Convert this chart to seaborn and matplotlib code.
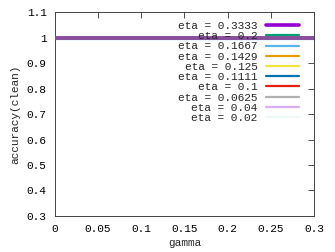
import numpy as np
import pandas as pd
from matplotlib import pyplot as plt
import seaborn as sns

gamma = [0.0, 0.05, 0.1, 0.15, 0.2, 0.25, 0.3]
etas = ["0.3333", "0.2", "0.1667", "0.1429", "0.125", "0.1111", "0.1", "0.0625", "0.04", "0.02"]
acc = {
    "0.3333": [1.0, 1.0, 1.0, 1.0, 1.0, 1.0, 1.0],
    "0.2": [1.0, 1.0, 1.0, 1.0, 1.0, 1.0, 1.0],
    "0.1667": [1.0, 1.0, 1.0, 1.0, 1.0, 1.0, 1.0],
    "0.1429": [1.0, 1.0, 1.0, 1.0, 1.0, 1.0, 1.0],
    "0.125": [1.0, 1.0, 1.0, 1.0, 1.0, 1.0, 1.0],
    "0.1111": [1.0, 1.0, 1.0, 1.0, 1.0, 1.0, 1.0],
    "0.1": [1.0, 1.0, 1.0, 1.0, 1.0, 1.0, 1.0],
    "0.0625": [1.0, 1.0, 1.0, 1.0, 1.0, 1.0, 1.0],
    "0.04": [1.0, 1.0, 1.0, 1.0, 1.0, 1.0, 1.0],
    "0.02": [1.0, 1.0, 1.0, 1.0, 1.0, 1.0, 1.0],
}
colors = ["#9400d3", "#009e73", "#56b4e9", "#e69f00", "#f0e442",
          "#0072b2", "#e51e10", "#b0b0b0", "#dcb0ee", "#eef8f6"]

rows = []
for e in etas:
    for g, a in zip(gamma, acc[e]):
        rows.append({"gamma": g, "acc": a, "eta": "eta = " + e})
df = pd.DataFrame(rows)

sns.set_theme(style="white")
plt.rcParams["font.family"] = ["Liberation Mono", "DejaVu Sans Mono"]

fig = plt.figure(figsize=(3.35, 2.52), dpi=100)
ax = fig.add_axes([0.164, 0.143, 0.773, 0.809])
sns.lineplot(data=df, x="gamma", y="acc", hue="eta",
             palette=dict(zip(["eta = " + e for e in etas], colors)),
             linewidth=1.6, ax=ax)
# the light blue one peeks out under the thick purple line
ax.lines[2].set_zorder(3)
ax.lines[2].set_ydata(np.array(acc["0.1667"]) - 0.004)
ax.lines[0].set_linewidth(2.8)
ax.lines[0].set_color("#8a4e9c")
ax.lines[0].set_zorder(4)

ax.set_xlim(0, 0.3)
ax.set_ylim(0.3, 1.1)
ax.set_xticks(gamma)
ax.set_xticklabels(["0", "0.05", "0.1", "0.15", "0.2", "0.25", "0.3"])
ax.set_yticks([0.3, 0.4, 0.5, 0.6, 0.7, 0.8, 0.9, 1.0, 1.1])
ax.set_yticklabels(["0.3", "0.4", "0.5", "0.6", "0.7", "0.8", "0.9", "1", "1.1"])
ax.tick_params(direction="in", length=4, width=0.6, color="#333333",
               top=True, right=True, labelsize=8, pad=6, labelcolor="black")
for s in ax.spines.values():
    s.set_color("#444444")
    s.set_linewidth(0.7)
ax.set_xlabel("gamma", fontsize=8, labelpad=3)
ax.set_ylabel("accuracy(clean)", fontsize=8, labelpad=5)

leg = ax.legend(loc="upper right", frameon=False, markerfirst=False,
                fontsize=8, handlelength=2.9, labelspacing=0.02,
                handletextpad=0.8, borderaxespad=0.4,
                bbox_to_anchor=(0.975, 1.0))
leg.get_lines()[0].set_linewidth(2.6)
leg.get_lines()[0].set_color("#9400d3")

fig.savefig("out.png", dpi=100)
